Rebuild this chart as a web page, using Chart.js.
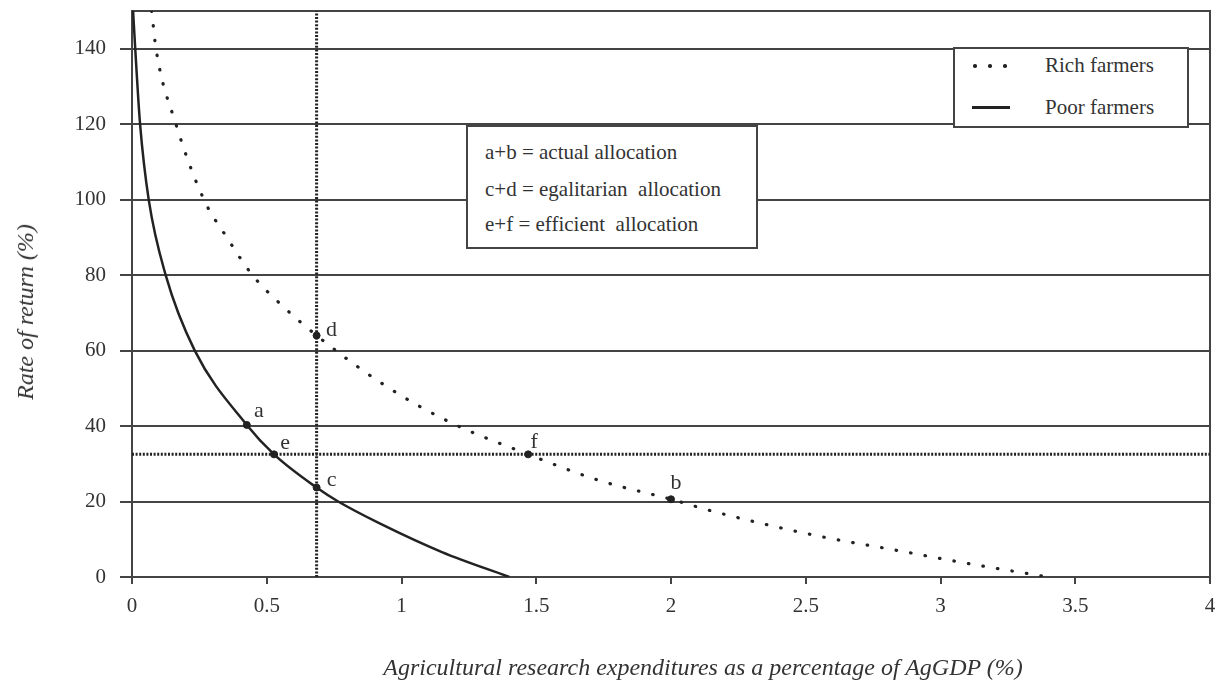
<!DOCTYPE html>
<html>
<head>
<meta charset="utf-8">
<title>Rate of return vs agricultural research expenditures</title>
<script src="https://cdn.jsdelivr.net/npm/chart.js@4/dist/chart.umd.min.js"></script>
<style>
  body { margin: 0; background: #fff; font-family: "Liberation Serif", "Times New Roman", serif; color: #333; }
  #wrap { position: relative; width: 1221px; height: 684px; overflow: hidden; }
  #chart { position: absolute; left: 0; top: 0; }
  .box { position: absolute; background: #fff; border: 2px solid #444; box-sizing: border-box; }
  .box .row { position: absolute; white-space: pre; font-size: 21px; line-height: 1; }
  .axis-title { position: absolute; font-style: italic; font-size: 24px; line-height: 1; white-space: nowrap; }
  .dot { position: absolute; width: 3.5px; height: 3.5px; border-radius: 50%; background: #222; }
  .solid { position: absolute; height: 2.5px; background: #222; }
</style>
</head>
<body>
<div id="wrap">
  <canvas id="chart" width="1221" height="684"></canvas>

  <div class="box" id="legend" style="left:953px; top:47px; width:236px; height:81px;">
    <span class="dot" style="left:18px; top:15px;"></span>
    <span class="dot" style="left:33px; top:15px;"></span>
    <span class="dot" style="left:48px; top:15px;"></span>
    <div class="row" style="left:90px; top:6px;">Rich farmers</div>
    <span class="solid" style="left:17px; top:57px; width:38px;"></span>
    <div class="row" style="left:90px; top:48px;">Poor farmers</div>
  </div>

  <div class="box" id="notes" style="left:466px; top:125px; width:292px; height:124px;">
    <div class="row" style="left:17px; top:15px;">a+b = actual allocation</div>
    <div class="row" style="left:17px; top:52px;">c+d = egalitarian  allocation</div>
    <div class="row" style="left:17px; top:87px;">e+f = efficient  allocation</div>
  </div>

  <div class="axis-title" style="left:703px; top:655px; transform:translateX(-50%);">Agricultural research expenditures as a percentage of AgGDP (%)</div>
  <div class="axis-title" style="left:25px; top:312px; transform:translate(-50%,-50%) rotate(-90deg);">Rate of return (%)</div>
</div>

<script>
// Values
const X_TICK_LABELS = ['0', '0.5', '1', '1.5', '2', '2.5', '3', '3.5', '4'];

const RICH_X = [0.073, 0.089, 0.163, 0.267, 0.351, 0.447, 0.556, 0.685, 0.94, 1.178, 1.47, 1.733, 2.0, 2.156, 2.53, 2.85, 3.1, 3.4];
const RICH_Y = [150, 140, 120, 100, 90.1, 80, 72, 64, 50.7, 41.1, 32.5, 25.6, 20.6, 17.4, 11.1, 6.9, 3.6, 0];

const POOR_X = [0.004, 0.012, 0.03, 0.062, 0.125, 0.233, 0.426, 0.527, 0.685, 0.765, 0.919, 1.15, 1.4];
const POOR_Y = [150, 140, 120, 100, 80, 60, 40.3, 32.5, 23.7, 20, 14.2, 6.6, 0];

const POINT_NAMES = ['a', 'b', 'c', 'd', 'e', 'f'];
const POINT_X = [0.426, 2.0, 0.685, 0.685, 0.527, 1.47];
const POINT_Y = [40.3, 20.6, 23.7, 64, 32.5, 32.5];

const EFFICIENT_RETURN = 32.5;    // horizontal dotted line
const EGALITARIAN_SHARE = 0.685;  // vertical dotted line

const INK = '#222';
const GRID = '#444';
const FONT = '"Liberation Serif", "Times New Roman", serif';

const toXY = (xs, ys) => xs.map((x, i) => ({ x, y: ys[i] }));

// label placement next to each marked point (pixels)
const LABEL_OFFSET = { a: [12, -14], b: [5, -16], c: [15, -7], d: [15, -5], e: [11, -11], f: [6, -12] };

const pointLabels = {
  id: 'pointLabels',
  afterDatasetsDraw(chart) {
    const { ctx } = chart;
    const meta = chart.getDatasetMeta(0);
    ctx.save();
    ctx.fillStyle = '#333';
    ctx.font = `22px ${FONT}`;
    ctx.textAlign = 'center';
    ctx.textBaseline = 'middle';
    meta.data.forEach((el, i) => {
      const name = POINT_NAMES[i];
      const [dx, dy] = LABEL_OFFSET[name];
      ctx.fillText(name, el.x + dx, el.y + dy);
    });
    ctx.restore();
  },
};

// top and right frame of the plot
const frame = {
  id: 'frame',
  beforeDatasetsDraw(chart) {
    const { ctx, chartArea: a } = chart;
    ctx.save();
    ctx.strokeStyle = GRID;
    ctx.lineWidth = 2;
    ctx.beginPath();
    ctx.moveTo(a.left, a.top);
    ctx.lineTo(a.right, a.top);
    ctx.lineTo(a.right, a.bottom);
    ctx.stroke();
    ctx.restore();
  },
};

new Chart(document.getElementById('chart'), {
  type: 'scatter',
  data: {
    datasets: [
      {
        label: 'points',
        data: toXY(POINT_X, POINT_Y),
        backgroundColor: INK,
        borderColor: INK,
        pointRadius: 3.5,
        showLine: false,
      },
      {
        label: 'Poor farmers',
        data: toXY(POOR_X, POOR_Y),
        showLine: true,
        borderColor: INK,
        borderWidth: 2.5,
        pointRadius: 0,
        cubicInterpolationMode: 'monotone',
      },
      {
        label: 'Rich farmers',
        data: toXY(RICH_X, RICH_Y),
        showLine: true,
        borderColor: INK,
        borderWidth: 3.2,
        borderDash: [0.5, 14.2],
        borderCapStyle: 'round',
        pointRadius: 0,
        cubicInterpolationMode: 'monotone',
      },
      {
        label: 'efficient',
        data: [{ x: 0, y: EFFICIENT_RETURN }, { x: 4, y: EFFICIENT_RETURN }],
        showLine: true,
        borderColor: INK,
        borderWidth: 3,
        borderDash: [2, 1.6],
        pointRadius: 0,
      },
      {
        label: 'egalitarian',
        data: [{ x: EGALITARIAN_SHARE, y: 0 }, { x: EGALITARIAN_SHARE, y: 150 }],
        showLine: true,
        borderColor: INK,
        borderWidth: 3,
        borderDash: [2, 1.6],
        pointRadius: 0,
      },
    ],
  },
  options: {
    responsive: false,
    animation: false,
    devicePixelRatio: 1,
    layout: { padding: { top: 11, right: 11, left: 0, bottom: 0 } },
    plugins: { legend: { display: false }, tooltip: { enabled: false } },
    scales: {
      x: {
        type: 'linear',
        min: 0,
        max: 4,
        ticks: {
          stepSize: 0.5,
          autoSkip: false,
          maxRotation: 0,
          padding: 10,
          color: '#333',
          font: { family: FONT, size: 21 },
          callback: (v, i) => X_TICK_LABELS[i],
        },
        grid: { drawOnChartArea: false, tickLength: 7, color: GRID, lineWidth: 2 },
        border: { color: GRID, width: 2 },
        afterFit: s => { s.height = 107; s.paddingLeft = 0; s.paddingRight = 0; },
      },
      y: {
        min: 0,
        max: 150,
        ticks: {
          stepSize: 20,
          includeBounds: false,
          padding: 14,
          color: '#333',
          font: { family: FONT, size: 21 },
        },
        grid: { color: GRID, lineWidth: 2, tickLength: 12 },
        border: { color: GRID, width: 2 },
        afterFit: s => { s.width = 132; s.paddingTop = 0; s.paddingBottom = 0; },
      },
    },
  },
  plugins: [frame, pointLabels],
});
</script>
</body>
</html>
